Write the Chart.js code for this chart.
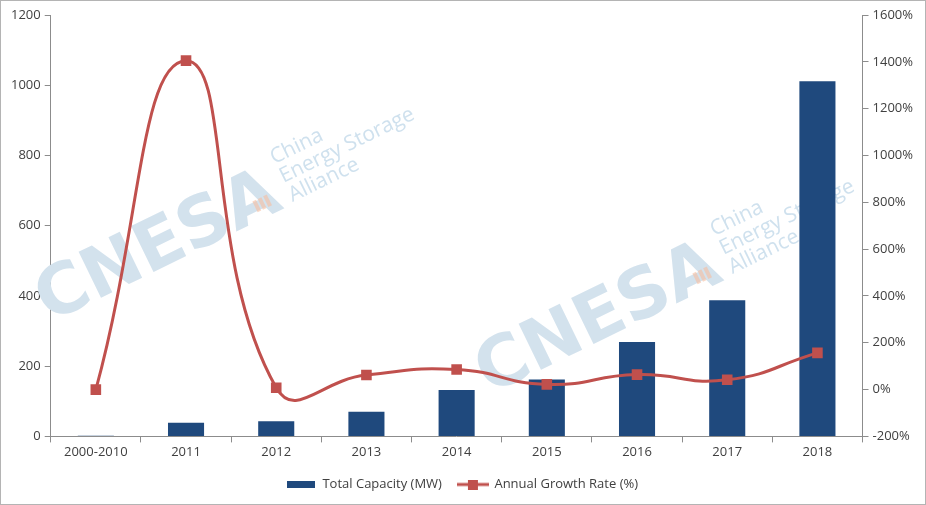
<!DOCTYPE html>
<html>
<head>
<meta charset="utf-8">
<script src="https://cdn.jsdelivr.net/npm/chart.js@4.4.1/dist/chart.umd.min.js"></script>
<style>
  html, body { margin: 0; padding: 0; background: #fff; }
  #wrap { width: 926px; height: 505px; box-sizing: border-box; border: 1px solid #b4b4b4; }
  canvas { display: block; }
</style>
</head>
<body>
<div id="wrap"><canvas id="chart" width="924" height="503"></canvas></div>
<script>
// Chart data
const years = ['2000-2010', '2011', '2012', '2013', '2014', '2015', '2016', '2017', '2018'];
const capacity = [2, 39, 43, 70, 132, 162, 269, 388, 1011];
const growth = [0, 1405, 8, 62, 86, 22, 64, 42, 157];

const BAR_COLOR = '#1f497d';
const LINE_COLOR = '#c0504d';
const TEXT_COLOR = '#404040';
const AXIS_COLOR = '#8c8c8c';
const FONT = '"Open Sans", sans-serif';

// Legend icons
const barIcon = document.createElement('canvas');
barIcon.width = 28; barIcon.height = 7;
barIcon.getContext('2d').fillStyle = BAR_COLOR;
barIcon.getContext('2d').fillRect(0, 0, 28, 7);

const lineIcon = document.createElement('canvas');
lineIcon.width = 32; lineIcon.height = 10;
(() => {
  const c = lineIcon.getContext('2d');
  c.strokeStyle = LINE_COLOR;
  c.lineWidth = 3;
  c.beginPath(); c.moveTo(0, 5); c.lineTo(32, 5); c.stroke();
  c.fillStyle = LINE_COLOR;
  c.fillRect(11, 0, 10, 10);
})();

// CNESA watermark drawn under the datasets
const watermark = {
  id: 'watermark',
  beforeDatasetsDraw(chart) {
    const ctx = chart.ctx;
    const spots = [[48, 322], [488, 394]];
    spots.forEach(([x, y]) => {
      ctx.save();
      ctx.translate(x, y);
      ctx.rotate(-26 * Math.PI / 180);
      ctx.fillStyle = '#d3e2ed';
      ctx.font = 'bold 70px "DejaVu Sans", sans-serif';
      ctx.textBaseline = 'alphabetic';
      ctx.fillText('CNESA', 0, 0);
      ctx.fillStyle = 'rgba(247, 190, 160, 0.6)';
      for (let i = 0; i < 3; i++) {
        ctx.fillRect(236 + i * 6, -20, 4, 12);
      }
      ctx.fillStyle = '#cfe1ee';
      ctx.font = '21px "Open Sans", sans-serif';
      ctx.fillText('China', 272, -44);
      ctx.fillText('Energy Storage', 272, -23);
      ctx.fillText('Alliance', 272, -2);
      ctx.restore();
    });
  },
};

new Chart(document.getElementById('chart'), {
  data: {
    labels: years,
    datasets: [
      {
        type: 'line',
        label: 'Annual Growth Rate (%)',
        data: growth,
        yAxisID: 'y1',
        borderColor: LINE_COLOR,
        backgroundColor: LINE_COLOR,
        borderWidth: 3,
        tension: 0.5,
        pointStyle: 'rect',
        pointRadius: 7.5,
        pointBorderWidth: 0,
        pointBackgroundColor: LINE_COLOR,
        order: 1,
      },
      {
        type: 'bar',
        label: 'Total Capacity (MW)',
        data: capacity,
        yAxisID: 'y',
        backgroundColor: BAR_COLOR,
        categoryPercentage: 1,
        barPercentage: 0.4,
        order: 2,
      },
    ],
  },
  options: {
    responsive: false,
    animation: false,
    layout: {
      padding: { top: 14, left: 6, right: 8, bottom: 3 },
    },
    scales: {
      x: {
        offset: true,
        grid: { display: true, offset: true, drawOnChartArea: false, tickLength: 6, color: AXIS_COLOR },
        border: { color: AXIS_COLOR, width: 1 },
        ticks: { color: TEXT_COLOR, font: { family: FONT, size: 13 }, padding: 2, maxRotation: 0 },
      },
      y: {
        position: 'left',
        min: 0,
        max: 1200,
        grid: { drawOnChartArea: false, tickLength: 6, color: AXIS_COLOR },
        border: { color: AXIS_COLOR, width: 1 },
        ticks: {
          stepSize: 200,
          color: TEXT_COLOR,
          font: { family: FONT, size: 13 },
          padding: 4,
          callback: (v) => String(v),
        },
      },
      y1: {
        position: 'right',
        min: -200,
        max: 1600,
        grid: { drawOnChartArea: false, tickLength: 6, color: AXIS_COLOR },
        border: { color: AXIS_COLOR, width: 1 },
        ticks: {
          stepSize: 200,
          color: TEXT_COLOR,
          font: { family: FONT, size: 13 },
          padding: 4,
          callback: (v) => v + '%',
        },
      },
    },
    plugins: {
      legend: {
        position: 'bottom',
        labels: {
          color: TEXT_COLOR,
          font: { family: FONT, size: 13 },
          usePointStyle: true,
          pointStyleWidth: 30,
          padding: 16,
          generateLabels: (chart) => [
            { text: 'Total Capacity (MW)', pointStyle: barIcon, datasetIndex: 1, fontColor: TEXT_COLOR, lineWidth: 0 },
            { text: 'Annual Growth Rate (%)', pointStyle: lineIcon, datasetIndex: 0, fontColor: TEXT_COLOR, lineWidth: 0 },
          ],
        },
      },
      tooltip: { enabled: false },
    },
  },
  plugins: [watermark],
});
</script>
</body>
</html>
